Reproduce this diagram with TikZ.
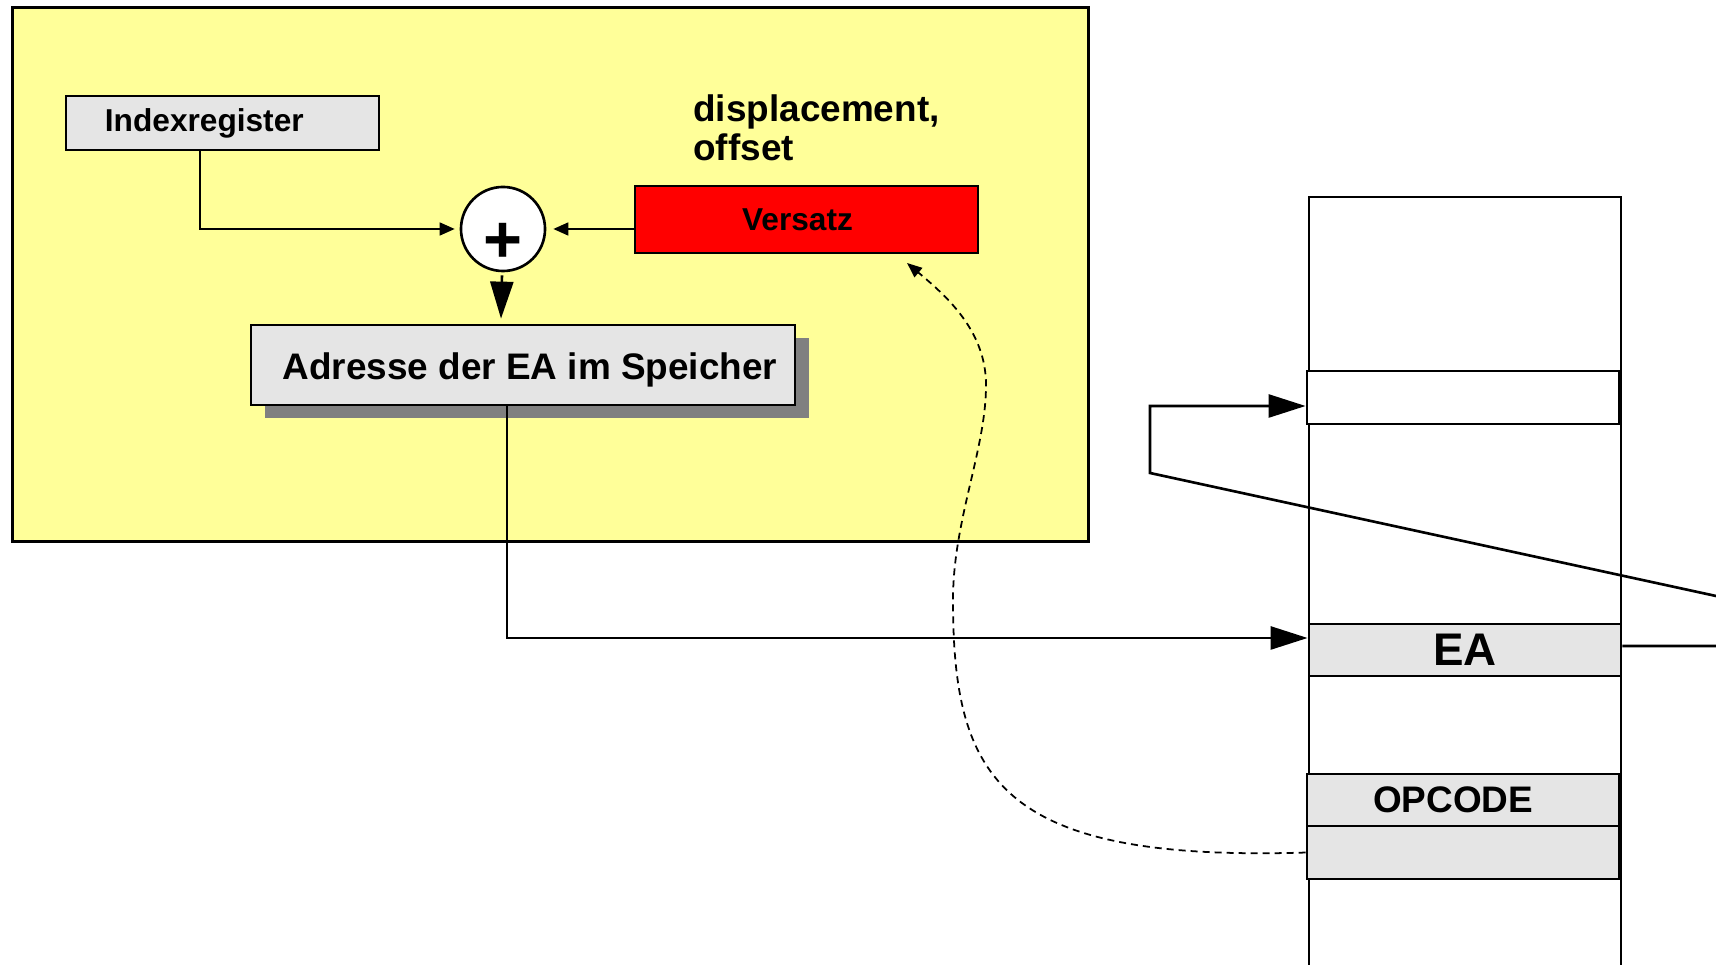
\documentclass[tikz,border=0pt]{standalone}
\usepackage{fontspec}
\setmainfont{Liberation Sans}
\usetikzlibrary{positioning,shadows,arrows.meta}
\definecolor{panelyellow}{HTML}{FFFF99}
\definecolor{cellgray}{HTML}{E5E5E5}
\definecolor{shadowgray}{HTML}{808080}

\begin{document}
\begin{tikzpicture}[x=0.01cm, y=-0.01cm, line width=0.75pt,
  box/.style={draw, fill=cellgray, inner sep=0pt},
  cell/.style={box, minimum width=3.12cm, minimum height=0.52cm},
  smalltip/.style={line width=0.45pt, -{Triangle[length=0.15cm,width=0.13cm]}},
  bigtip/.style={-{Triangle[length=0.37cm,width=0.23cm]}},
  fnine/.style={font=\bfseries\fontsize{9}{11}\selectfont},
  ften/.style={font=\bfseries\fontsize{10.5}{11.2}\selectfont}]
\useasboundingbox (0,0) rectangle (1716,965);

\node (panel) [draw, line width=0.8pt, fill=panelyellow, minimum width=10.75cm, minimum height=5.33cm] at (550.5,274.5) {};
\node (idx) [box, fnine, minimum width=3.13cm, minimum height=0.54cm, text width=2.35cm, inner xsep=0.39cm, align=left] at (222.5,123) {Indexregister};
\node (plus) [draw, circle, fill=white, minimum size=0.84cm, inner sep=0pt, text height=0.67cm, text depth=0pt, font=\bfseries\fontsize{19}{19}\selectfont] at (503,229) {+};
\node (vers) [draw, fill=red, fnine, minimum width=3.43cm, minimum height=0.67cm] at (806.5,219.5) {\hspace*{-0.18cm}Versatz};
\node (disp) [ften, anchor=north west, align=left, inner sep=0pt] at (692,93) {displacement,\\offset};
\node (adr) [box, ften, minimum width=5.44cm, minimum height=0.8cm, text height=10.2pt, text depth=2.2pt, drop shadow={shadow xshift=0.14cm, shadow yshift=-0.13cm, fill=shadowgray, opacity=1}] at (523,365) {\hspace*{0.14cm}Adresse der EA im Speicher};

\draw (1309,966) -- (1309,197) -- (1621,197) -- (1621,966);
\node (top) [cell, fill=white, minimum height=0.53cm] at (1463,397.5) {};
\node (ea) [cell, font=\bfseries\fontsize{13}{15}\selectfont] at (1465,650) {EA};
\node (op) [cell, ften] at (1463,800) {\hspace*{-0.2cm}OPCODE};
\node (arg) [cell, minimum height=0.53cm, below=-0.75pt of op] {};
\coordinate (in) at (1716,596);
\coordinate (out) at (1716,646);

\draw[smalltip, shorten >=0.05cm] ([xshift=-0.225cm]idx.south) |- (plus);
\draw[smalltip, shorten >=0.07cm] (vers.west |- plus) -- (plus);
\draw[bigtip, shorten <=0.03cm] (plus) -- ([xshift=-0.02cm, yshift=0.05cm]adr.north -| plus);
\draw[bigtip] ([xshift=-0.16cm]adr.south) |- ([yshift=0.12cm]ea.west);
\draw[bigtip] (in) -- (1150,473) |- ([yshift=-0.085cm]top.west);
\draw ([yshift=0.04cm]ea.east) -- (out);
\draw[line width=0.5pt, dash pattern=on 0.07cm off 0.05cm, -{Triangle[length=0.15cm,width=0.12cm]}]
  (arg.west) .. controls (1000,862) and (953,780) .. (953,600)
  .. controls (953,520) and (986,450) .. (986,385)
  .. controls (986,330) and (945,295) .. (907,263);
\end{tikzpicture}
\end{document}
